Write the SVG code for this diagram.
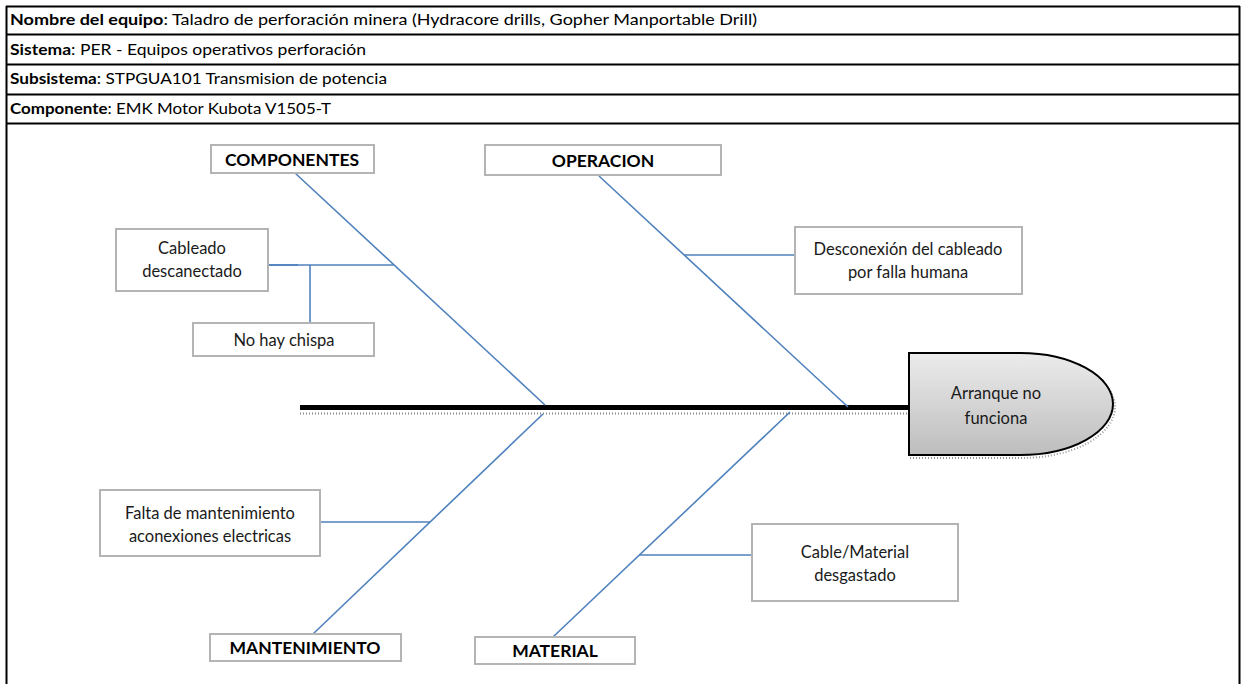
<svg xmlns="http://www.w3.org/2000/svg" width="1241" height="684" viewBox="0 0 1241 684">
<defs>
<linearGradient id="headGrad" x1="0" y1="0" x2="0" y2="1">
<stop offset="0" stop-color="#ececec"/>
<stop offset="1" stop-color="#bdbdbd"/>
</linearGradient>
<style>
.hdr{font-family:Lato,"Liberation Sans",sans-serif;font-size:15px;fill:#000}
.b{font-weight:bold}
.box{fill:#fff;stroke:#b4b4b4;stroke-width:2}
.cat{font-family:Lato,"Liberation Sans",sans-serif;font-size:17.5px;font-weight:bold;fill:#000;text-anchor:middle}
.lbl{font-family:Lato,"Liberation Sans",sans-serif;font-size:16.5px;fill:#1a1a1a;text-anchor:middle}
.bone{stroke:#4f81bd;stroke-width:1.6;fill:none}
.rule{stroke:#000;stroke-width:2}
</style>
</defs>
<rect width="1241" height="684" fill="#fff"/>
<g id="header">
<line class="rule" x1="6" y1="6.5" x2="1240" y2="6.5" stroke-width="1.5"/>
<line class="rule" x1="6.5" y1="6" x2="6.5" y2="684"/>
<line class="rule" x1="1239.5" y1="6" x2="1239.5" y2="684" stroke-width="2.5"/>
<line class="rule" x1="6" y1="34.5" x2="1240" y2="34.5"/>
<line class="rule" x1="6" y1="64.5" x2="1240" y2="64.5"/>
<line class="rule" x1="6" y1="94.5" x2="1240" y2="94.5"/>
<line class="rule" x1="6" y1="123.5" x2="1240" y2="123.5"/>
<text class="hdr" x="10" y="25" textLength="747" lengthAdjust="spacingAndGlyphs"><tspan class="b">Nombre del equipo</tspan>: Taladro de perforación minera (Hydracore drills, Gopher Manportable Drill)</text>
<text class="hdr" x="10" y="55" textLength="356" lengthAdjust="spacingAndGlyphs"><tspan class="b">Sistema</tspan>: PER - Equipos operativos perforación</text>
<text class="hdr" x="10" y="84" textLength="377" lengthAdjust="spacingAndGlyphs"><tspan class="b">Subsistema</tspan>: STPGUA101 Transmision de potencia</text>
<text class="hdr" x="10" y="114" textLength="321" lengthAdjust="spacingAndGlyphs"><tspan class="b">Componente</tspan>: EMK Motor Kubota V1505-T</text>
</g>
<g id="connectors">
<line x1="300" y1="413.5" x2="908" y2="413.5" stroke="#888" stroke-width="2" stroke-dasharray="1 2"/>
<line x1="300" y1="407.5" x2="910" y2="407.5" stroke="#000" stroke-width="5"/>
<line class="bone" x1="295" y1="173" x2="545" y2="405"/>
<line class="bone" x1="599" y1="176" x2="848" y2="407"/>
<line class="bone" x1="313" y1="634" x2="543" y2="414"/>
<line class="bone" x1="553" y1="637" x2="790" y2="412"/>
<line class="bone" x1="268" y1="265" x2="394" y2="265"/>
<line class="bone" x1="268" y1="265" x2="298" y2="265" stroke-width="2.6"/>
<line class="bone" x1="310" y1="265" x2="310" y2="323"/>
<line class="bone" x1="684" y1="255" x2="795" y2="255" stroke-width="2.2"/>
<line class="bone" x1="320" y1="522" x2="430" y2="522" stroke-width="2.2"/>
<line class="bone" x1="639" y1="555" x2="752" y2="555"/>
</g>
<g id="head">
<path d="M910,458 L1022,458 A93,51 0 0 0 1022,356" fill="none" stroke="#999" stroke-width="2" stroke-dasharray="1 2"/>
<path d="M909,353 L1020,353 A93,51 0 0 1 1020,455 L909,455 Z" fill="url(#headGrad)" stroke="#000" stroke-width="2"/>
<text class="lbl" x="996" y="399" font-size="20.5" fill="#000">Arranque no</text>
<text class="lbl" x="996" y="424" font-size="20.5" fill="#000">funciona</text>
</g>
<g id="componentes">
<rect class="box" x="211" y="145" width="163" height="28"/>
<text class="cat" x="292" y="166">COMPONENTES</text>
</g>
<g id="operacion">
<rect class="box" x="485" y="145" width="236" height="30"/>
<text class="cat" x="603" y="167">OPERACION</text>
</g>
<g id="mantenimiento">
<rect class="box" x="210" y="634" width="191" height="27"/>
<text class="cat" x="305" y="654">MANTENIMIENTO</text>
</g>
<g id="material">
<rect class="box" x="475" y="637" width="160" height="27"/>
<text class="cat" x="555" y="657">MATERIAL</text>
</g>
<g id="cableado">
<rect class="box" x="116" y="229" width="152" height="62"/>
<text class="lbl" x="192" y="254">Cableado</text>
<text class="lbl" x="192" y="277">descanectado</text>
</g>
<g id="chispa">
<rect class="box" x="193" y="323" width="181" height="33"/>
<text class="lbl" x="284" y="346">No hay chispa</text>
</g>
<g id="desconexion">
<rect class="box" x="795" y="227" width="227" height="67"/>
<text class="lbl" x="908" y="255">Desconexión del cableado</text>
<text class="lbl" x="908" y="278">por falla humana</text>
</g>
<g id="falta">
<rect class="box" x="100" y="490" width="220" height="66"/>
<text class="lbl" x="210" y="519">Falta de mantenimiento</text>
<text class="lbl" x="210" y="542">aconexiones electricas</text>
</g>
<g id="desgastado">
<rect class="box" x="752" y="524" width="206" height="77"/>
<text class="lbl" x="855" y="558">Cable/Material</text>
<text class="lbl" x="855" y="581">desgastado</text>
</g>
</svg>
